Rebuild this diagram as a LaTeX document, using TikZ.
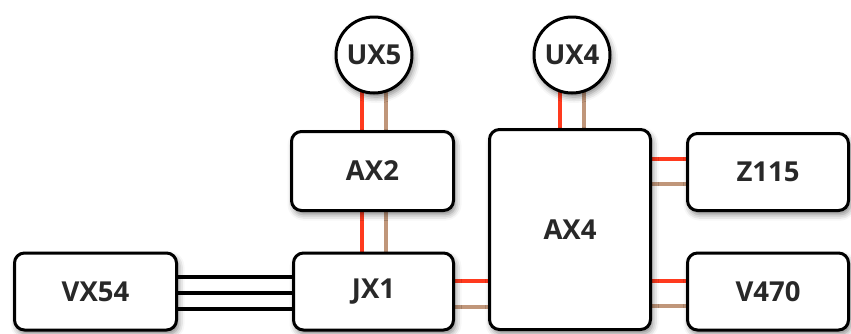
\documentclass[tikz,border=0pt]{standalone}
\usepackage{fontspec}
\setmainfont{Open Sans}
\usetikzlibrary{shadows.blur}
\definecolor{wirered}{RGB}{255,58,30}
\definecolor{wiretan}{RGB}{192,150,122}
\definecolor{ink}{RGB}{40,40,40}
\pgfdeclarelayer{wires}
\pgfsetlayers{wires,main}
\tikzset{
  unit/.style={draw=black, line width=3pt, fill=white, text=ink,
    font=\bfseries\fontsize{27.5}{32}\selectfont,
    blur shadow={shadow xshift=2pt, shadow yshift=-4pt,
                 shadow blur radius=6pt, shadow opacity=50}},
  box/.style={unit, rectangle, rounded corners=10pt},
  port/.style={unit, circle, minimum size=76pt, inner sep=0pt},
  redwire/.style={draw=wirered, line width=4pt},
  tanwire/.style={draw=wiretan, line width=4pt},
  busline/.style={draw=black, line width=4pt},
}
\begin{document}
\begin{tikzpicture}[x=1pt,y=-1pt]
\useasboundingbox (0,0) rectangle (851,333);

% units
\node[port] (ux5) at (374,55) {UX5};
\node[port] (ux4) at (572,55) {UX4};
\node[box, minimum width=162pt, minimum height=79pt] (ax2) at (372.5,171) {AX2};
\node[box, minimum width=162pt, minimum height=77pt] (vx54) at (95.5,291.5) {VX54};
\node[box, minimum width=160pt, minimum height=77pt] (jx1) at (373.5,291.5) {JX1};
\node[box, minimum width=161pt, minimum height=200pt] (ax4) at (570,229.5) {AX4};
\node[box, minimum width=161pt, minimum height=77pt] (z115) at (768,172) {Z115};
\node[box, minimum width=161pt, minimum height=77pt] (v470) at (768,291.5) {V470};

% wire pairs, kept under the units
\begin{pgfonlayer}{wires}
  % UX5 -- AX2
  \draw[redwire] ([xshift=-12pt]ux5.center) -- ([xshift=-12pt]ux5.center |- ax2.center);
  \draw[tanwire] ([xshift=12pt]ux5.center) -- ([xshift=12pt]ux5.center |- ax2.center);
  % AX2 -- JX1
  \draw[redwire] ([xshift=-11pt]ax2.center) -- ([xshift=-11pt]ax2.center |- jx1.center);
  \draw[tanwire] ([xshift=13pt]ax2.center) -- ([xshift=13pt]ax2.center |- jx1.center);
  % UX4 -- AX4
  \draw[redwire] ([xshift=-12pt]ux4.center) -- ([xshift=-12pt]ux4.center |- ax4.center);
  \draw[tanwire] ([xshift=12pt]ux4.center) -- ([xshift=12pt]ux4.center |- ax4.center);
  % JX1 -- AX4
  \draw[redwire] ([yshift=10.5pt]jx1.center) -- ([yshift=10.5pt]jx1.center -| ax4.center);
  \draw[tanwire] ([yshift=-15.5pt]jx1.center) -- ([yshift=-15.5pt]jx1.center -| ax4.center);
  % AX4 -- Z115
  \draw[redwire] ([yshift=13pt]z115.center) -- ([yshift=13pt]z115.center -| ax4.center);
  \draw[tanwire] ([yshift=-12pt]z115.center) -- ([yshift=-12pt]z115.center -| ax4.center);
  % AX4 -- V470
  \draw[redwire] ([yshift=10.5pt]v470.center) -- ([yshift=10.5pt]v470.center -| ax4.center);
  \draw[tanwire] ([yshift=-14.5pt]v470.center) -- ([yshift=-14.5pt]v470.center -| ax4.center);
  % VX54 -- JX1 bus
  \draw[busline] ([yshift=14.5pt]vx54.center) -- ([yshift=14.5pt]vx54.center -| jx1.center);
  \draw[busline] ([yshift=-1.5pt]vx54.center) -- ([yshift=-1.5pt]vx54.center -| jx1.center);
  \draw[busline] ([yshift=-17.5pt]vx54.center) -- ([yshift=-17.5pt]vx54.center -| jx1.center);
\end{pgfonlayer}
\end{tikzpicture}
\end{document}
